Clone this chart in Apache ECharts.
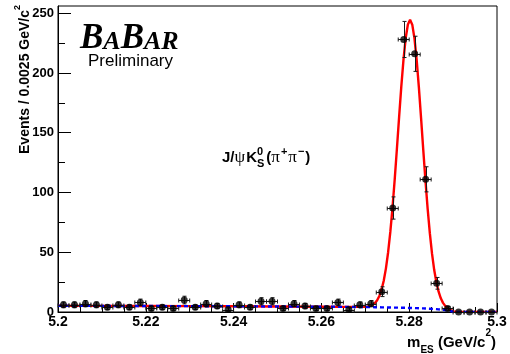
<!DOCTYPE html>
<html>
<head>
<meta charset="utf-8">
<script src="https://cdn.jsdelivr.net/npm/echarts@6/dist/echarts.min.js"></script>
<style>
  html, body { margin: 0; padding: 0; background: #ffffff; }
  #chart { width: 510px; height: 354px; }
</style>
</head>
<body>
<div id="chart"></div>
<script>
// m_ES histogram: 40 bins of 2.5 MeV between 5.20 and 5.30 GeV/c^2
const binWidth = 0.0025;
const binCenters = [
  5.20125, 5.20375, 5.20625, 5.20875, 5.21125, 5.21375, 5.21625, 5.21875,
  5.22125, 5.22375, 5.22625, 5.22875, 5.23125, 5.23375, 5.23625, 5.23875,
  5.24125, 5.24375, 5.24625, 5.24875, 5.25125, 5.25375, 5.25625, 5.25875,
  5.26125, 5.26375, 5.26625, 5.26875, 5.27125, 5.27375, 5.27625, 5.27875,
  5.28125, 5.28375, 5.28625, 5.28875, 5.29125, 5.29375, 5.29625, 5.29875
];
const counts = [
  6, 6, 7, 6, 4, 6, 4, 8,
  3, 4, 3, 10, 4, 7, 5, 2,
  6, 4, 9, 9, 3, 7, 5, 3,
  3, 8, 2, 6, 7, 17, 87, 228,
  216, 111, 24, 3, 0, 0, 0, 0
];
const countErrors = [
  2.4, 2.4, 2.6, 2.4, 2.0, 2.4, 2.0, 2.8,
  1.7, 2.0, 1.7, 3.2, 2.0, 2.6, 2.2, 1.4,
  2.4, 2.0, 3.0, 3.0, 1.7, 2.6, 2.2, 1.7,
  1.7, 2.8, 1.4, 2.4, 2.6, 4.1, 9.3, 15.1,
  14.7, 10.5, 4.9, 1.7, 0, 0, 0, 0
];

// Fit curves sampled along m_ES: background (ARGUS) and signal (Gaussian) parts
const fitX = [
  5.2000, 5.2100, 5.2200, 5.2300, 5.2400, 5.2500, 5.2600, 5.2650,
  5.2692, 5.2697, 5.2702, 5.2707, 5.2712, 5.2717, 5.2722, 5.2727,
  5.2732, 5.2737, 5.2742, 5.2747, 5.2752, 5.2757, 5.2762, 5.2767,
  5.2772, 5.2777, 5.2782, 5.2787, 5.2792, 5.2797, 5.2802, 5.2807,
  5.2812, 5.2817, 5.2822, 5.2827, 5.2832, 5.2837, 5.2842, 5.2847,
  5.2852, 5.2857, 5.2862, 5.2867, 5.2872, 5.2877, 5.2882, 5.2887,
  5.2892, 5.2897, 5.2902, 5.2907, 5.2912, 5.3000
];
const fitBkg = [
  5.2, 5.1, 5.0, 4.9, 4.8, 4.6, 4.4, 4.3,
  4.2, 4.2, 4.2, 4.1, 4.1, 4.1, 4.0, 4.0,
  4.0, 3.9, 3.9, 3.9, 3.8, 3.8, 3.7, 3.7,
  3.7, 3.6, 3.6, 3.5, 3.5, 3.4, 3.4, 3.3,
  3.3, 3.2, 3.1, 3.0, 3.0, 2.9, 2.8, 2.7,
  2.6, 2.5, 2.4, 2.2, 2.0, 1.8, 1.6, 1.4,
  1.0, 0.6, 0, 0, 0, 0
];
const fitSignal = [
  0, 0, 0, 0, 0, 0, 0, 0,
  0.08, 0.16, 0.32, 0.62, 1.14, 2.03, 3.50, 5.85,
  9.44, 14.8, 22.3, 32.6, 46.2, 63.2, 83.7, 107.2,
  132.9, 159.4, 185.0, 207.7, 225.6, 237.1, 241.0, 237.1,
  225.6, 207.7, 185.0, 159.4, 132.9, 107.2, 83.7, 63.2,
  46.2, 32.6, 22.3, 14.8, 9.44, 5.85, 3.50, 2.03,
  1.14, 0.62, 0.32, 0.16, 0.08, 0
];

// Axis ticks
const yTickValues = [0, 50, 100, 150, 200, 250];
const yMinorTickValues = [25, 75, 125, 175, 225];

const SANS = '"Liberation Sans", Arial, Helvetica, sans-serif';
const SERIF = '"Liberation Serif", "Times New Roman", serif';

const histData = binCenters.map((x, i) => [x, counts[i], countErrors[i]]);
const bkgLine = fitX.map((x, i) => [x, fitBkg[i]]);
const totalLine = fitX.map((x, i) => [x, fitBkg[i] + fitSignal[i]]);

const measureCtx = document.createElement('canvas').getContext('2d');
function textWidth(font, s) {
  measureCtx.font = font;
  return measureCtx.measureText(s).width;
}

// Decay-mode label: J/psi K_S^0 (pi+ pi-), with the K_S^0 indices stacked
const decayX = 222;
const decayTop = 146;
const wJpsiK = textWidth('bold 15px ' + SANS, 'J/') +
               textWidth('normal 17px ' + SERIF, '\u03c8') + 1 +
               textWidth('bold 15px ' + SANS, 'K');

const chart = echarts.init(document.getElementById('chart'), null, { renderer: 'canvas' });

function errorBars(params, api) {
  const x = api.value(0), y = api.value(1), e = api.value(2);
  const c = api.coord([x, y]);
  const l = api.coord([x - binWidth / 2, y]);
  const r = api.coord([x + binWidth / 2, y]);
  const cap = 2;
  const st = { stroke: '#1a1a1a', lineWidth: 1 };
  const cy = Math.round(c[1]) + 0.5;
  const cx = Math.round(c[0]) + 0.5;
  const children = [
    { type: 'line', shape: { x1: l[0], y1: cy, x2: r[0], y2: cy }, style: st },
    { type: 'line', shape: { x1: l[0], y1: cy - cap, x2: l[0], y2: cy + cap }, style: st },
    { type: 'line', shape: { x1: r[0], y1: cy - cap, x2: r[0], y2: cy + cap }, style: st }
  ];
  if (e > 0) {
    const t = api.coord([x, y + e]);
    const b = api.coord([x, y - e]);
    children.push(
      { type: 'line', shape: { x1: cx, y1: t[1], x2: cx, y2: b[1] }, style: st },
      { type: 'line', shape: { x1: cx - cap, y1: t[1], x2: cx + cap, y2: t[1] }, style: st },
      { type: 'line', shape: { x1: cx - cap, y1: b[1], x2: cx + cap, y2: b[1] }, style: st }
    );
  }
  return { type: 'group', children };
}

const option = {
  backgroundColor: '#ffffff',
  animation: false,
  grid: {
    left: 58, top: 6, width: 439, height: 306,
    show: true, borderColor: '#000000', borderWidth: 1, backgroundColor: 'transparent'
  },
  xAxis: {
    type: 'value',
    min: 5.2, max: 5.3, interval: 0.02,
    axisLine: { show: true, lineStyle: { color: '#000000', width: 1 } },
    axisTick: { show: true, inside: true, length: 9, lineStyle: { color: '#000000', width: 1 } },
    minorTick: { show: true, splitNumber: 4, length: 5, lineStyle: { color: '#000000', width: 1 } },
    splitLine: { show: false },
    axisLabel: {
      color: '#000000', fontFamily: SANS, fontWeight: 'bold', fontSize: 14, margin: 3
    }
  },
  yAxis: [
    {
      type: 'value', min: 0, max: 256,
      axisLine: { show: true, lineStyle: { color: '#000000', width: 1 } },
      axisTick: { show: true, inside: true, length: 13, customValues: yTickValues,
                  lineStyle: { color: '#000000', width: 1 } },
      splitLine: { show: false },
      axisLabel: {
        customValues: yTickValues,
        color: '#000000', fontFamily: SANS, fontWeight: 'bold', fontSize: 13, margin: 4
      }
    },
    {
      type: 'value', min: 0, max: 256, position: 'left',
      axisLine: { show: false },
      axisTick: { show: true, inside: true, length: 7, customValues: yMinorTickValues,
                  lineStyle: { color: '#000000', width: 1 } },
      splitLine: { show: false },
      axisLabel: { show: false }
    }
  ],
  series: [
    {
      name: 'total fit', type: 'line', data: totalLine, yAxisIndex: 0,
      showSymbol: false, silent: true, z: 2,
      lineStyle: { color: '#ff0000', width: 2.4 }
    },
    {
      name: 'background', type: 'line', data: bkgLine, yAxisIndex: 0,
      showSymbol: false, silent: true, z: 3,
      lineStyle: { color: '#0000ff', width: 2.4, type: [4, 3] }
    },
    {
      name: 'errors', type: 'custom', data: histData, yAxisIndex: 0,
      renderItem: errorBars, clip: false, silent: true, z: 4,
      encode: { x: 0, y: 1 }
    },
    {
      name: 'data', type: 'scatter', data: histData.map(d => [d[0], d[1]]), yAxisIndex: 0,
      symbol: 'circle', symbolSize: 7, silent: true, z: 5, clip: false,
      itemStyle: { color: '#000000' }
    }
  ],
  graphic: [
    {
      type: 'text', x: 80, y: 21, z: 10,
      style: {
        text: '{b|B}{s|A}{b|B}{s|A}{s|R}',
        align: 'left', verticalAlign: 'top', fill: '#000000',
        rich: {
          b: { fontFamily: SERIF, fontStyle: 'italic', fontWeight: 'bold', fontSize: 35,
               lineHeight: 35, verticalAlign: 'bottom', fill: '#000000' },
          s: { fontFamily: SERIF, fontStyle: 'italic', fontWeight: 'bold', fontSize: 26,
               lineHeight: 26, verticalAlign: 'bottom', padding: [0, 0, 1, 0], fill: '#000000' }
        }
      }
    },
    {
      type: 'text', x: 88, y: 53, z: 10,
      style: {
        text: 'Preliminary', fontFamily: SANS, fontSize: 17, fontWeight: 'normal',
        align: 'left', verticalAlign: 'top', fill: '#000000'
      }
    },
    {
      type: 'text', x: decayX, y: decayTop, z: 10,
      style: {
        text: '{m|J/}{g|\u03c8}{m|K}{sub|S}{m|(}{g|\u03c0}{sup|+}{g|\u03c0}{sup|\u2212}{m|)}',
        align: 'left', verticalAlign: 'top', fill: '#000000',
        rich: {
          m: { fontFamily: SANS, fontWeight: 'bold', fontSize: 15, lineHeight: 23, fill: '#000000' },
          g: { fontFamily: SERIF, fontWeight: 'normal', fontSize: 17, lineHeight: 23,
               padding: [0, 1, 0, 0], fill: '#000000' },
          sub: { fontFamily: SANS, fontWeight: 'bold', fontSize: 11, lineHeight: 11,
                 verticalAlign: 'bottom', padding: [0, 2, 0, 0], fill: '#000000' },
          sup: { fontFamily: SANS, fontWeight: 'bold', fontSize: 11, lineHeight: 11,
                 verticalAlign: 'top', padding: [0, 1, 0, 0], fill: '#000000' }
        }
      }
    },
    {
      type: 'text', x: decayX + wJpsiK, y: decayTop, z: 10,
      style: {
        text: '0', fontFamily: SANS, fontWeight: 'bold', fontSize: 11, lineHeight: 11,
        align: 'left', verticalAlign: 'top', fill: '#000000'
      }
    },
    {
      type: 'text', x: 25, y: 5, rotation: Math.PI / 2, z: 10,
      style: {
        text: '{m|Events / 0.0025 GeV/c}{sup|2}',
        align: 'right', verticalAlign: 'middle', fill: '#000000',
        rich: {
          m: { fontFamily: SANS, fontWeight: 'bold', fontSize: 14, lineHeight: 24, fill: '#000000' },
          sup: { fontFamily: SANS, fontWeight: 'bold', fontSize: 9, lineHeight: 9,
                 verticalAlign: 'top', fill: '#000000' }
        }
      }
    },
    {
      type: 'text', x: 496, y: 328, z: 10,
      style: {
        text: '{m|m}{sub|ES}{m| (GeV/c}{sup|2}{m|)}',
        align: 'right', verticalAlign: 'top', fill: '#000000',
        rich: {
          m: { fontFamily: SANS, fontWeight: 'bold', fontSize: 15, lineHeight: 30, fill: '#000000' },
          sub: { fontFamily: SANS, fontWeight: 'bold', fontSize: 10, lineHeight: 10,
                 verticalAlign: 'bottom', padding: [0, 0, 3, 0], fill: '#000000' },
          sup: { fontFamily: SANS, fontWeight: 'bold', fontSize: 10, lineHeight: 10,
                 verticalAlign: 'top', fill: '#000000' }
        }
      }
    }
  ]
};

chart.setOption(option);
</script>
</body>
</html>
